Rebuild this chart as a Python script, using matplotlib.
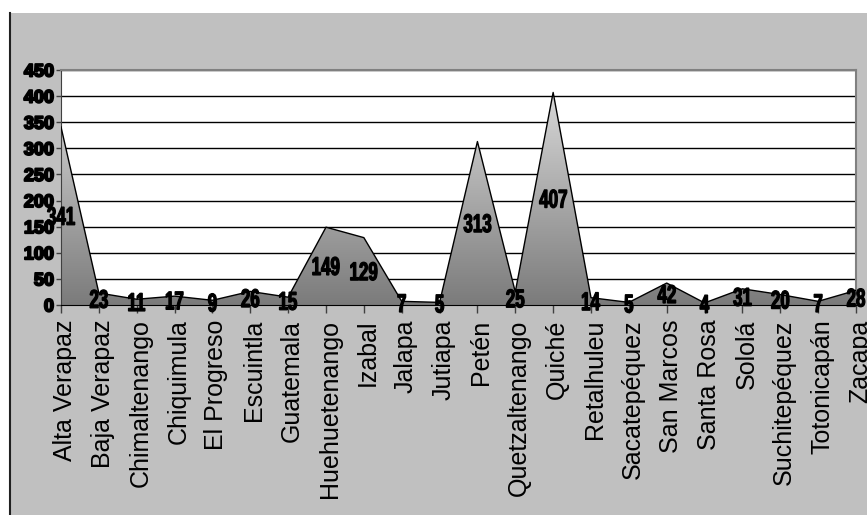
#!/usr/bin/env python3
import numpy as np
import matplotlib
matplotlib.use('Agg')
from matplotlib import pyplot as plt
from matplotlib import patheffects
from matplotlib.colors import LinearSegmentedColormap
from matplotlib.font_manager import FontProperties
from matplotlib.patches import PathPatch, Polygon, Rectangle
from matplotlib.textpath import TextPath
from matplotlib.transforms import Affine2D, ScaledTranslation

departments = [
    'Alta Verapaz', 'Baja Verapaz', 'Chimaltenango', 'Chiquimula', 'El Progreso',
    'Escuintla', 'Guatemala', 'Huehuetenango', 'Izabal', 'Jalapa', 'Jutiapa',
    'Petén', 'Quetzaltenango', 'Quiché', 'Retalhuleu', 'Sacatepéquez',
    'San Marcos', 'Santa Rosa', 'Sololá', 'Suchitepéquez', 'Totonicapán', 'Zacapa',
]
values = [341, 23, 11, 17, 9, 26, 15, 149, 129, 7, 5, 313, 25, 407, 14, 5, 42, 4, 31, 20, 7, 28]
y_ticks = [0, 50, 100, 150, 200, 250, 300, 350, 400, 450]

BOLD = FontProperties(family='Liberation Sans', weight='bold')


def squeezed_label(ax, x, y, s, size=18.5, sx=0.66):
    # excel draws these narrow and tall, so squash a text path sideways
    tp = TextPath((0, 0), s, size=size, prop=BOLD)
    bb = tp.get_extents()
    cx, cy = (bb.x0 + bb.x1) / 2, (bb.y0 + bb.y1) / 2
    tr = (Affine2D().translate(-cx, -cy).scale(sx / 72, 1 / 72)
          + ax.figure.dpi_scale_trans + ScaledTranslation(x, y, ax.transData))
    ax.add_patch(PathPatch(tp, transform=tr, fc='black', ec='black', lw=0.9,
                           zorder=6, clip_on=False))


fig = plt.figure(figsize=(8.67, 5.15), dpi=100)
fig.patch.set_facecolor('white')
W, H = 867, 515

# grey chart area with dark left border
fig.patches.append(Rectangle((10 / W, 0), 1, (H - 13) / H, transform=fig.transFigure,
                             facecolor='#c0c0c0', edgecolor='none', zorder=-2))
fig.lines.append(plt.Line2D([9.5 / W, 9.5 / W], [0, (H - 13) / H], transform=fig.transFigure,
                            color='#202020', lw=1.5, zorder=-1))

ax = fig.add_axes([61 / W, (H - 305) / H, (856 - 61) / W, (305 - 70) / H])
ax.set_facecolor('white')
x = np.arange(len(values))
v = np.array(values)
ax.set_xlim(0, len(values) - 1)
ax.set_ylim(0, 450)

# gradient area
cmap = LinearSegmentedColormap.from_list('g', ['#7b7b7b', '#e2e2e2'])
grad = np.linspace(0, 1, 256).reshape(-1, 1)
im = ax.imshow(grad, extent=[0, len(values) - 1, 0, 450], origin='lower',
               aspect='auto', cmap=cmap, zorder=2)
poly = Polygon(np.column_stack([np.concatenate([x, x[::-1]]),
                                np.concatenate([v, np.zeros_like(v)])]),
               closed=True, facecolor='none', edgecolor='none')
ax.add_patch(poly)
im.set_clip_path(poly)
ax.plot(x, v, color='black', lw=1, zorder=3)

ax.set_yticks(y_ticks)
ax.yaxis.grid(True, color='black', lw=1)
ax.set_axisbelow(True)

for sp in ['top', 'right']:
    ax.spines[sp].set_color('#808080')
    ax.spines[sp].set_linewidth(1.5)
ax.spines['left'].set_color('#404040')
ax.spines['bottom'].set_color('black')
ax.spines['bottom'].set_zorder(4)

ax.set_xticks(x)
ax.set_xticklabels(departments, rotation=90, fontsize=18, family='Liberation Sans',
                   va='top', ha='center')
ax.tick_params(axis='x', direction='out', length=6, width=1, pad=4.5, color='#404040')
ax.tick_params(axis='y', direction='out', length=3.5, width=1, pad=1.5, color='#404040')
shift = ScaledTranslation(4 / 100, 0, fig.dpi_scale_trans)
for lab in ax.get_xticklabels():
    lab.set_transform(lab.get_transform() + shift)
for lab in ax.get_yticklabels():
    lab.set_fontproperties(BOLD)
    lab.set_fontsize(13)
    lab.set_path_effects([patheffects.withStroke(linewidth=1.4, foreground='black')])

for xi, vi in zip(x, values):
    squeezed_label(ax, xi, vi / 2, str(vi))

fig.savefig('out.png', dpi=100)
